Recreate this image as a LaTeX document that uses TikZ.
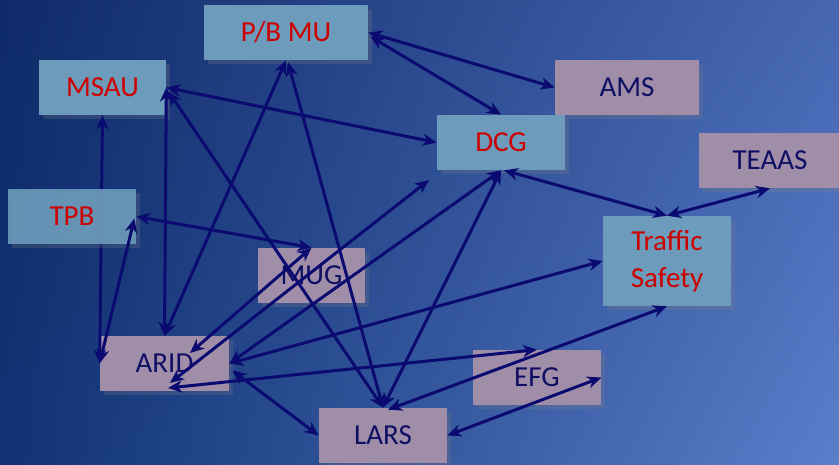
\documentclass[tikz,border=0pt]{standalone}
\usepackage{fontspec}
\setmainfont{Carlito}
\usetikzlibrary{arrows.meta,shadows,shadings}

\definecolor{hgoli}{RGB}{14,42,104}
\definecolor{hgore}{RGB}{70,102,178}
\definecolor{hguli}{RGB}{16,50,116}
\definecolor{hgure}{RGB}{90,126,202}
\definecolor{kastenblau}{RGB}{108,155,187}
\definecolor{kastenlila}{RGB}{160,142,168}
\definecolor{textrot}{RGB}{205,0,0}
\definecolor{textblau}{RGB}{14,14,100}
\definecolor{pfeilfarbe}{RGB}{10,10,112}

\tikzset{
  kasten/.style={minimum width=2.56cm, minimum height=1.1cm, inner sep=0pt,
    align=center, font=\fontsize{16.5}{21}\selectfont,
    drop shadow={shadow xshift=2pt, shadow yshift=-2pt, opacity=0.25}},
  blaukasten/.style={kasten, fill=kastenblau, text=textrot},
  lilakasten/.style={kasten, fill=kastenlila, text=textblau},
  pfeil/.style={draw=pfeilfarbe, line width=1.7pt,
    {Stealth[length=8pt,width=7pt,inset=2.5pt]}-{Stealth[length=8pt,width=7pt,inset=2.5pt]}}
}

\begin{document}
\begin{tikzpicture}[x=0.02cm,y=-0.02cm]
  % Hintergrund
  \useasboundingbox (0,0) rectangle (839,465);
  \shade[upper left=hgoli, upper right=hgore, lower left=hguli, lower right=hgure]
    (0,0) rectangle (839,465);

  % Kaesten
  \node[blaukasten, minimum width=3.28cm] (pbmu) at (286,32.5) {P/B MU};
  \node[blaukasten, minimum width=2.54cm] (msau) at (102.5,87.5) {MSAU};
  \node[lilakasten, minimum width=2.88cm] (ams) at (627,87.5) {AMS};
  \node[blaukasten] (dcg) at (501,142.5) {DCG};
  \node[lilakasten, minimum width=2.84cm] (teaas) at (770,160.5) {TEAAS};
  \node[blaukasten, minimum height=1.8cm] (traffic) at (667,261) {Traffic\\Safety};
  \node[lilakasten, minimum width=2.14cm] (mug) at (311.5,275.5) {MUG};
  \node[lilakasten, minimum width=2.58cm] (arid) at (164.5,363.5) {ARID};
  \node[lilakasten] (efg) at (537,377.5) {EFG};
  \node[lilakasten] (lars) at (383,435.5) {LARS};
  \coordinate (dcgfrei) at (429,180);

  % Linie hinter TPB
  \draw[pfeil] (msau.south) -- (arid.west);
  \node[blaukasten, fill opacity=0.9, text opacity=1] (tpb) at (72,216.5) {TPB};

  % Pfeile
  \draw[pfeil] (pbmu.east) -- (ams.west);
  \draw[pfeil] ([shift={(2,4)}]pbmu.east) -- (dcg.north);
  \draw[pfeil] (msau.east) -- (dcg.west);
  \draw[pfeil] ([shift={(-2,2)}]tpb.east) -- (arid.west);
  \draw[pfeil] (tpb.east) -- (mug.north);
  \draw[pfeil] (msau.east) -- (arid.north);
  \draw[pfeil] ([shift={(2,4)}]msau.east) -- (lars.north);
  \draw[pfeil] (pbmu.south) -- (arid.north);
  \draw[pfeil] ([shift={(2,2)}]pbmu.south) -- (lars.north);
  \draw[pfeil] ([shift={(25.5,-10.5)}]arid.center) -- (mug.north);
  \draw[pfeil] ([shift={(5.5,19.5)}]arid.center) -- (dcgfrei);
  \draw[pfeil] (arid.east) -- (dcg.south);
  \draw[pfeil] (arid.east) -- (traffic.west);
  \draw[pfeil] ([shift={(3.5,24.5)}]arid.center) -- (efg.north);
  \draw[pfeil] ([shift={(3,7)}]arid.east) -- (lars.west);
  \draw[pfeil] (lars.north) -- (dcg.south);
  \draw[pfeil] ([shift={(5,2)}]lars.north) -- (traffic.south);
  \draw[pfeil] (lars.east) -- (efg.east);
  \draw[pfeil] ([shift={(3,0)}]dcg.south) -- (traffic.north);
  \draw[pfeil] (traffic.north) -- (teaas.south);
\end{tikzpicture}
\end{document}
